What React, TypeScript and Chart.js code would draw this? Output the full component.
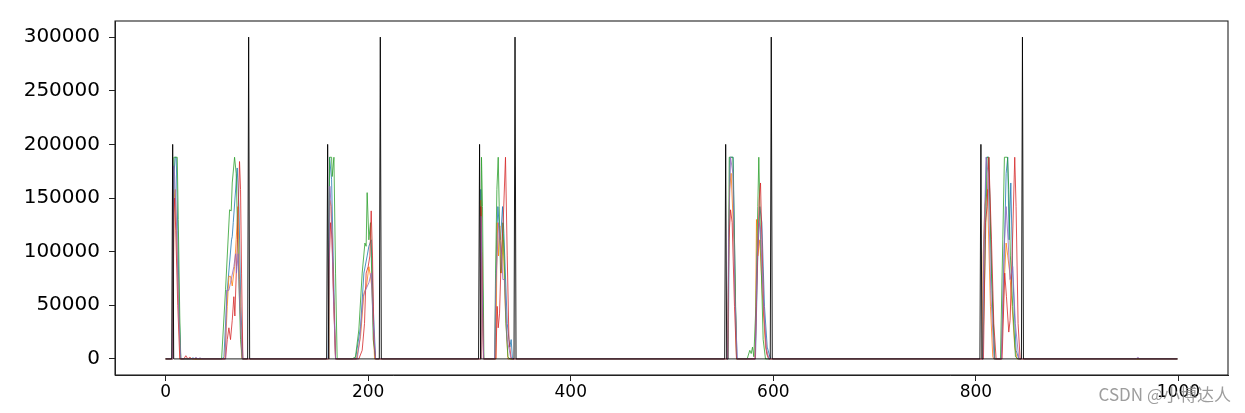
import React, { useEffect, useRef } from "react";
import { Chart, registerables } from "chart.js";

Chart.register(...registerables);

type P = [number, number];

const xTicks = [0, 200, 400, 600, 800, 1000];
const yTicks = [0, 50000, 100000, 150000, 200000, 250000, 300000];

const blackSeries: P[] = [
  [0, 0], [6, 0], [7, 200000], [8, 0], [81, 0], [82, 300000], [83, 0],
  [159, 0], [160, 200000], [161, 0], [211, 0], [212, 300000], [213, 0],
  [309, 0], [310, 200000], [311, 0], [344, 0], [345, 300000], [346, 0],
  [552, 0], [553, 200000], [554, 0], [597, 0], [598, 300000], [599, 0],
  [804, 0], [805, 200000], [806, 0], [845, 0], [846, 300000], [847, 0], [999, 0],
];

const blueSeries: P[] = [
  [0, 0], [7, 0], [8.5, 175000], [9.5, 188000], [10.5, 188000], [12, 120000], [13.5, 40000], [15, 0],
  [25, 0], [27, 1000], [29, 0],
  [56, 0], [57.6, 2000], [60.9, 64000], [65.1, 111000], [65.8, 114000], [66.8, 127000], [70.7, 178000], [72.4, 142000], [74.3, 49000], [76.3, 0],
  [160.5, 0], [161.9, 188000], [163.9, 167000], [165.5, 96000], [167.8, 0],
  [187.5, 0], [192.5, 30000], [195.8, 80000], [199, 96000], [200.7, 105000], [203, 111000], [205, 49000], [207.3, 0],
  [310.5, 0], [311.3, 158000], [312.5, 100000], [314, 0],
  [325.4, 0], [326.8, 111000], [328.1, 142000], [329.4, 124000], [330.7, 111000], [332.7, 142000], [334, 117000], [337.3, 33000], [339.9, 11000], [341.2, 18000], [342.5, 0],
  [555.5, 0], [557.1, 188000], [560.4, 188000], [562.7, 49000], [564.3, 0],
  [582.4, 0], [584.7, 96000], [586.7, 142000], [588.7, 127000], [591.3, 49000], [594, 11000], [597.2, 0],
  [806.5, 0], [807.5, 80000], [810.5, 188000], [812.8, 188000], [816.1, 64000], [818.7, 0],
  [825.2, 0], [827.6, 80000], [829.9, 173000], [831.5, 188000], [832.8, 111000], [834.5, 164000], [836.4, 80000], [839.7, 8000], [842.4, 0],
  [999, 0],
];

const orangeSeries: P[] = [
  [0, 0], [7, 0], [8.5, 150000], [9.5, 158000], [11, 110000], [13, 40000], [14.5, 0],
  [58.5, 0], [60.9, 49000], [62.5, 77000], [64.1, 77000], [65.8, 68000], [68.1, 86000], [69.7, 111000], [71.4, 142000], [73, 74000], [75, 2000], [75.7, 0],
  [160.8, 0], [162.2, 148000], [163.5, 142000], [165.2, 80000], [167.8, 0],
  [188.5, 0], [192.5, 21000], [195.8, 61000], [198.4, 68000], [200.7, 86000], [202.3, 77000], [204, 64000], [206.3, 0],
  [310.5, 0], [311.3, 148000], [312.5, 90000], [314, 0],
  [326.1, 0], [327.4, 127000], [328.7, 96000], [330, 124000], [331.7, 80000], [333.3, 111000], [335.3, 49000], [338, 0],
  [555, 0], [555.8, 74000], [556.8, 158000], [558.4, 173000], [561.1, 111000], [563.7, 0],
  [582.1, 0], [583.4, 130000], [584.7, 96000], [586.7, 111000], [589, 64000], [592.3, 11000], [595.5, 0],
  [806.2, 0], [807.2, 96000], [808.8, 142000], [811.4, 158000], [814.4, 49000], [816.7, 2000], [817.7, 0],
  [825.2, 0], [827.6, 64000], [829.9, 108000], [831.5, 96000], [833.5, 80000], [835.8, 49000], [838.4, 11000], [840.7, 0],
  [999, 0],
];

const greenSeries: P[] = [
  [0, 0], [7, 0], [8.2, 188000], [11.5, 188000], [12.5, 130000], [14, 40000], [15, 0],
  [55.3, 0], [59.2, 64500], [63.2, 139000], [64.8, 138000], [65.8, 164000], [68.1, 188000], [69.7, 173000], [71.7, 96000], [74, 18000], [75.7, 0],
  [161.2, 0], [161.9, 188000], [163.9, 188000], [164.5, 170000], [166.2, 188000], [167.8, 80000], [169.4, 0],
  [184.3, 0], [187.5, 2000], [190.8, 27000], [194.1, 80000], [196.8, 108000], [198, 105000], [199, 155000], [200.7, 111000], [202.3, 127000], [205, 18000], [207.3, 0],
  [311, 0], [311.9, 188000], [312.9, 142000], [314.3, 0],
  [324.8, 0], [325.8, 80000], [327.1, 158000], [328.4, 188000], [329.4, 142000], [330.7, 80000], [331.7, 86000], [333, 127000], [334.3, 96000], [336, 33000], [338, 2000], [339.9, 0],
  [555.1, 0], [556.5, 188000], [560.1, 188000], [561.7, 111000], [563.7, 0],
  [574.2, 0], [576.8, 8000], [578.2, 5000], [579.5, 11000], [580.8, 2000], [582.8, 49000], [584.7, 142000], [585.7, 188000], [587.4, 111000], [590, 18000], [592.3, 0],
  [806.8, 0], [809.5, 111000], [811.1, 188000], [812.8, 188000], [815.4, 80000], [818.4, 0],
  [824.3, 0], [826.6, 111000], [828.2, 188000], [831.2, 188000], [832.5, 158000], [834.1, 96000], [836.4, 49000], [839.1, 2000], [841.7, 0],
  [999, 0],
];

const redSeries: P[] = [
  [0, 0], [7, 0], [8, 136000], [9, 150000], [10, 120000], [12, 50000], [14, 0],
  [18, 0], [20, 3000], [22, 0], [24, 1500], [26, 0],
  [59.2, 0], [60.9, 18000], [62.5, 29000], [64.1, 18000], [65.8, 36000], [67.4, 58000], [68.4, 40000], [70, 86000], [71, 111000], [73, 184000], [74, 158000], [75, 80000], [76.3, 0],
  [160.5, 0], [161.2, 80000], [162.9, 127000], [164.5, 111000], [166.2, 49000], [167.8, 0],
  [190.8, 0], [194.1, 8000], [196.4, 33000], [198, 80000], [200, 86000], [201.7, 96000], [203, 138000], [204.3, 96000], [205.6, 18000], [207.3, 0],
  [310.5, 0], [311.3, 142000], [312.5, 70000], [313.8, 0],
  [326.1, 0], [327.4, 49000], [328.4, 29000], [329.7, 42000], [331.4, 96000], [333.3, 127000], [335.6, 188000], [337.3, 96000], [339, 18000], [341.2, 0],
  [555, 0], [556.1, 111000], [557.8, 139000], [559.4, 127000], [561.7, 49000], [563.7, 0],
  [582.1, 0], [584.1, 80000], [586.1, 148000], [587.4, 164000], [588.7, 111000], [590.7, 42000], [593.3, 5000], [595.5, 0],
  [807.5, 0], [809.5, 127000], [811.1, 142000], [812.8, 188000], [815.4, 111000], [817.7, 33000], [820, 0],
  [825.9, 0], [828.5, 80000], [830.2, 58000], [832.5, 25000], [833.8, 36000], [835.8, 96000], [838.4, 188000], [839.7, 142000], [841.7, 33000], [843.7, 0],
  [999, 0],
];

const purpleSeries: P[] = [
  [0, 0], [7, 0], [8, 180000], [9, 170000], [11, 120000], [13, 40000], [15, 0],
  [28, 0], [30, 1500], [32, 0], [34, 1000], [36, 0],
  [59.2, 0], [60.2, 64000], [62.5, 64000], [64.1, 71000], [67.4, 86000], [69.1, 98000], [70, 80000], [71.7, 98000], [73, 55000], [75.7, 0],
  [160.8, 0], [162.2, 161000], [163.5, 142000], [165.5, 64000], [167.8, 0],
  [189.2, 0], [191.8, 18000], [195.1, 58000], [197.4, 64000], [200.7, 71000], [203, 80000], [205, 33000], [207.3, 0],
  [310.5, 0], [311.3, 133000], [312.5, 70000], [314, 0],
  [324.8, 0], [326.1, 71000], [327.4, 96000], [328.7, 127000], [330, 111000], [331.7, 96000], [333, 74000], [334.7, 74000], [337.3, 18000], [340.6, 2000], [342.2, 0],
  [555, 0], [555.8, 111000], [557.8, 188000], [560.1, 173000], [562, 64000], [564.3, 0],
  [582.1, 0], [584.1, 96000], [586.1, 127000], [587.4, 121000], [589.7, 64000], [593, 11000], [595.5, 0],
  [806.8, 0], [807.8, 105000], [810.1, 188000], [812.1, 173000], [814.7, 64000], [818, 0],
  [825.2, 0], [827.9, 105000], [829.9, 142000], [831.8, 111000], [833.8, 74000], [836.4, 86000], [839, 33000], [842.4, 0],
  [958, 0], [960, 1500], [962, 0],
  [999, 0],
];

const seriesList: { data: P[]; color: string; width: number; order: number }[] = [
  { data: blueSeries, color: "#1f77b4", width: 0.8, order: 6 },
  { data: orangeSeries, color: "#ff7f0e", width: 0.8, order: 5 },
  { data: greenSeries, color: "#2ca02c", width: 0.8, order: 4 },
  { data: redSeries, color: "#d62728", width: 0.8, order: 3 },
  { data: purpleSeries, color: "#9467bd", width: 0.8, order: 2 },
  { data: blackSeries, color: "#000000", width: 0.9, order: 1 },
];

const WATERMARK = "CSDN @小博达人";

export default function App() {
  const ref = useRef<HTMLCanvasElement | null>(null);

  useEffect(() => {
    const canvas = ref.current;
    if (!canvas) return;

    const framePlugin = {
      id: "frame",
      afterDatasetsDraw(chart: any) {
        const { ctx, chartArea } = chart;
        ctx.save();
        ctx.strokeStyle = "#222";
        ctx.lineWidth = 1.1;
        ctx.strokeRect(chartArea.left, chartArea.top, chartArea.right - chartArea.left, chartArea.bottom - chartArea.top);
        ctx.restore();
      },
      afterDraw(chart: any) {
        const { ctx } = chart;
        ctx.save();
        ctx.fillStyle = "rgba(140,140,140,0.85)";
        ctx.font = '17px "Noto Sans CJK SC", "Noto Sans", sans-serif';
        ctx.textAlign = "right";
        ctx.textBaseline = "alphabetic";
        ctx.fillText(WATERMARK, 1231, 401);
        ctx.restore();
      },
    };

    const chart = new Chart(canvas, {
      type: "line",
      data: {
        datasets: seriesList.map((s) => ({
          data: s.data.map(([x, y]) => ({ x, y })),
          borderColor: s.color,
          backgroundColor: s.color,
          borderWidth: s.width,
          pointRadius: 0,
          tension: 0,
          fill: false,
          order: s.order,
        })),
      },
      options: {
        animation: false,
        responsive: false,
        maintainAspectRatio: false,
        layout: { padding: { top: 21, right: 17, left: 0, bottom: 0 } },
        plugins: { legend: { display: false }, tooltip: { enabled: false } },
        scales: {
          x: {
            type: "linear",
            min: -49.95,
            max: 1048.95,
            afterBuildTicks: (axis: any) => {
              axis.ticks = xTicks.map((v) => ({ value: v }));
            },
            afterFit: (axis: any) => {
              axis.height = 38;
            },
            grid: { display: true, drawOnChartArea: false, drawTicks: true, tickLength: 6, color: "#222", lineWidth: 1 },
            border: { display: true, color: "#222", width: 1 },
            ticks: {
              color: "#000",
              padding: 1,
              maxRotation: 0,
              autoSkip: false,
              font: { family: "DejaVu Sans", size: 17 },
              callback: (v: any) => String(v),
            },
          },
          y: {
            type: "linear",
            min: -15000,
            max: 315000,
            afterBuildTicks: (axis: any) => {
              axis.ticks = yTicks.map((v) => ({ value: v }));
            },
            afterFit: (axis: any) => {
              axis.width = 115;
            },
            grid: { display: true, drawOnChartArea: false, drawTicks: true, tickLength: 6, color: "#222", lineWidth: 1 },
            border: { display: true, color: "#222", width: 1 },
            ticks: {
              color: "#000",
              padding: 9,
              autoSkip: false,
              font: { family: "DejaVu Sans", size: 20 },
              callback: (v: any) => String(v),
            },
          },
        },
      },
      plugins: [framePlugin],
    } as any);

    return () => chart.destroy();
  }, []);

  return (
    <div style={{ position: "fixed", left: 0, top: 0, width: 1245, height: 413, background: "#fff" }}>
      <canvas ref={ref} width={1245} height={413} style={{ width: 1245, height: 413, display: "block" }} />
    </div>
  );
}
